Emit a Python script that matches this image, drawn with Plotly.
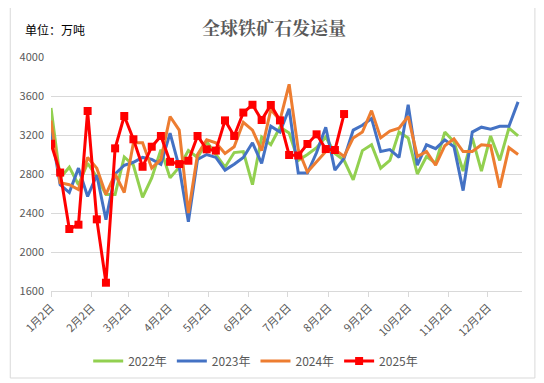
import pandas as pd
import plotly.graph_objects as go

# Weekly categories (shared calendar axis, starting 1月2日)
week_dates = pd.date_range("2023-01-02", periods=52, freq="7D")

tick_dates = ["2023-01-02", "2023-02-02", "2023-03-02", "2023-04-02", "2023-05-02", "2023-06-02",
              "2023-07-02", "2023-08-02", "2023-09-02", "2023-10-02", "2023-11-02", "2023-12-02"]
tick_labels = ["1月2日", "2月2日", "3月2日", "4月2日", "5月2日", "6月2日",
               "7月2日", "8月2日", "9月2日", "10月2日", "11月2日", "12月2日"]

y2022 = [3477, 2760, 2870, 2690, 2910, 2770, 2590, 2590, 2975, 2890, 2560, 2760, 3050,
         2760, 2870, 3040, 2970, 3130, 3000, 2870, 3020, 3030, 2690, 3180, 3100, 3280,
         3220, 2940, 3000, 3070, 3180, 3010, 2940, 2740, 3040, 3100, 2860, 2940, 3230,
         3170, 2800, 2980, 2910, 3230, 3130, 2830, 3170, 2830, 3190, 2940, 3270, 3190]

y2023 = [3250, 2690, 2610, 2860, 2570, 2790, 2330, 2800, 2890, 2920, 2970, 2950, 2900,
         3220, 2870, 2310, 2950, 3000, 2970, 2840, 2900, 2970, 3120, 2910, 3290, 3230,
         3470, 2810, 2810, 3020, 3280, 2840, 2960, 3250, 3300, 3370, 3030, 3050, 2970,
         3510, 2890, 3100, 3060, 3150, 3080, 2630, 3230, 3280, 3260, 3290, 3290, 3540]

y2024 = [3350, 2710, 2690, 2640, 2970, 2860, 2590, 2800, 2610, 3120, 3120, 2860, 2950,
         3390, 3250, 2400, 3000, 3150, 3120, 3010, 3080, 3330, 3250, 3040, 3460, 3350,
         3720, 3050, 2820, 2920, 3030, 3050, 2980, 3170, 3230, 3450, 3170, 3240, 3270,
         3390, 2980, 3030, 2890, 3090, 3160, 3030, 3030, 3100, 3090, 2660, 3070, 3000]

y2025 = [3110, 2815, 2236, 2280, 3446, 2335, 1685, 3063, 3395, 3156, 2874, 3080, 3190,
         2925, 2902, 2936, 3190, 3053, 3040, 3350, 3190, 3430, 3510, 3354, 3508, 3350,
         2995, 2990, 3108, 3207, 3056, 3046, 3415]

series = [
    ("2022年", y2022, "#92D050", False),
    ("2023年", y2023, "#4472C4", False),
    ("2024年", y2024, "#ED7D31", False),
    ("2025年", y2025, "#FF0000", True),
]

fig = go.Figure()
for name, vals, color, markers in series:
    fig.add_trace(go.Scatter(
        x=week_dates[:len(vals)], y=vals, name=name,
        mode="lines+markers" if markers else "lines",
        line=dict(color=color, width=3),
        marker=dict(symbol="square", size=8, color=color) if markers else None,
    ))

# page body has an 8px margin; positions below are in screen pixels
OFF = 8
W, H = 544, 383
L, R, T, B = 40, 30, 49, 100
pw, ph = W - L - R, H - T - B

def px(x):
    return (x - OFF - L) / pw

def py(y):
    return (H - B - (y - OFF)) / ph

fig.update_layout(
    width=W, height=H,
    margin=dict(l=L, r=R, t=T, b=B),
    paper_bgcolor="white", plot_bgcolor="white",
    font=dict(family="Noto Sans CJK SC, Noto Sans, sans-serif", color="#595959", size=11),
    showlegend=True,
    legend=dict(orientation="h", x=px(254), xanchor="center", y=py(361), yanchor="middle",
                font=dict(size=12, color="#595959"), itemwidth=30, tracegroupgap=0),
    xaxis=dict(
        type="date", range=["2023-01-02", "2023-12-28"],
        tickmode="array", tickvals=tick_dates, ticktext=tick_labels, tickangle=-45,
        showgrid=False, showline=True, linecolor="#D9D9D9", linewidth=1,
        ticks="outside", ticklen=5, tickcolor="#D9D9D9",
        tickfont=dict(size=11, color="#595959"), zeroline=False,
    ),
    yaxis=dict(
        range=[1600, 4000], dtick=400, tick0=1600,
        showgrid=True, gridcolor="#D9D9D9", gridwidth=1,
        showline=False, zeroline=False, ticks="",
        tickfont=dict(size=11, color="#595959"), ticklabelstandoff=6,
    ),
    shapes=[dict(type="rect", xref="paper", yref="paper",
                 x0=px(7), x1=px(535), y0=py(378), y1=py(4),
                 line=dict(color="#D9D9D9", width=1), fillcolor="rgba(0,0,0,0)", layer="below")],
    annotations=[
        dict(text="<b>全球铁矿石发运量</b>", xref="paper", yref="paper", x=px(272), y=py(27),
             xanchor="center", yanchor="middle", showarrow=False,
             font=dict(size=18, color="#595959", family="Noto Serif CJK SC, Noto Sans CJK SC, serif")),
        dict(text="单位：万吨", xref="paper", yref="paper", x=px(20), y=py(30),
             xanchor="left", yanchor="middle", showarrow=False,
             font=dict(size=12, color="#000000")),
    ],
)

fig.write_html("out.html")
